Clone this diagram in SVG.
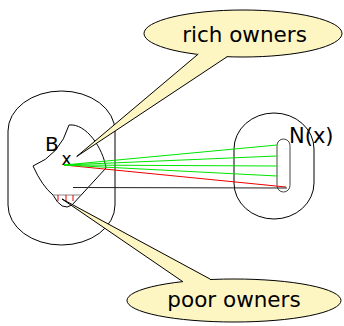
<svg xmlns="http://www.w3.org/2000/svg" width="344" height="326" viewBox="0 0 344 326">
<style>
.o{fill:none;stroke:#000;stroke-width:1}
.t{font-family:"DejaVu Sans","Liberation Sans",sans-serif;fill:#000}
.call{fill:#fdf5c2;stroke:#000;stroke-width:1}
.tail{fill:#fdf5c2;stroke:none}
.g{stroke:#00e600;stroke-width:1}
.r{stroke:#ee0000;stroke-width:1}
</style>
<rect width="344" height="326" fill="#fff"/>
<g id="B-region">
<rect class="o" x="8" y="91" width="107" height="154" rx="53.5" ry="40"/>
<path class="o" d="M33 166 Q60 155 69 125 C86 123 103 148 106 168 L72 205 Q62 212 53 195 Q42 186 33 166 Z"/>
<line x1="53" y1="195" x2="81" y2="195" stroke="#888" stroke-width="1"/>
<g stroke="#ee0000" stroke-width="1">
<line x1="58" y1="195" x2="58" y2="201"/>
<line x1="66" y1="195" x2="66" y2="202"/>
<line x1="73" y1="195" x2="73" y2="201"/>
</g>
<text class="t" x="45" y="151" font-size="20">B</text>
<text class="t" x="61.5" y="165" font-size="17">x</text>
</g>
<g id="N-region">
<rect class="o" x="234" y="113" width="80" height="106" rx="40" ry="36"/>
<rect x="277" y="139" width="13" height="53" rx="6.5" fill="none" stroke="#444" stroke-width="1"/>
<text class="t" x="289" y="143" font-size="21">N(x)</text>
</g>
<g id="connectors">
<line class="r" x1="64" y1="165" x2="286" y2="187"/>
<line class="g" x1="64" y1="165" x2="277" y2="145"/>
<line class="g" x1="64" y1="165" x2="277" y2="156"/>
<line class="g" x1="64" y1="165" x2="277" y2="166"/>
<line class="g" x1="64" y1="165" x2="277" y2="176"/>
<line x1="73" y1="187.5" x2="287" y2="188" stroke="#222" stroke-width="1"/>
</g>
<g id="rich-owners">
<ellipse class="call" cx="243" cy="33.5" rx="99" ry="23.5"/>
<polygon class="tail" points="198.3,53.5 76.7,156.5 227,56.5 227,50 198.3,50"/>
<polyline class="o" points="198.3,54 76.7,156.5 227,56.8"/>
<text class="t" x="244.5" y="42" font-size="21.5" text-anchor="middle">rich owners</text>
</g>
<g id="poor-owners">
<ellipse class="call" cx="234" cy="300.5" rx="107" ry="21.5"/>
<polygon class="tail" points="183,282 62,199 210,278.5 210,286 183,286"/>
<polyline class="o" points="183,281.8 62,199 210,279"/>
<text class="t" x="234" y="307" font-size="21.5" text-anchor="middle">poor owners</text>
</g>
</svg>
